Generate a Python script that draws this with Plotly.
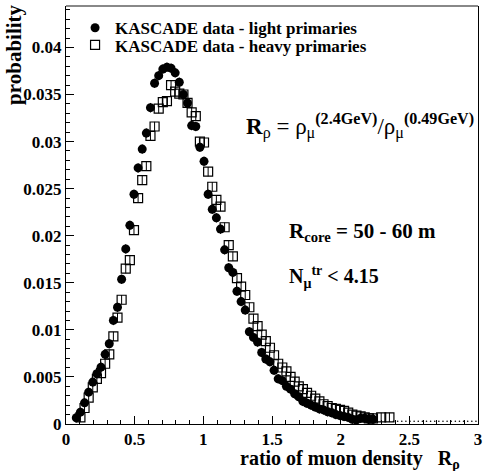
import plotly.graph_objects as go

# ---- data ----
bin_centers = [0.075, 0.105, 0.135, 0.165, 0.195, 0.225, 0.255, 0.285, 0.315, 0.345,
               0.375, 0.405, 0.435, 0.465, 0.495, 0.525, 0.555, 0.585, 0.615, 0.645,
               0.675, 0.705, 0.735, 0.765, 0.795, 0.825, 0.855, 0.885, 0.915, 0.945,
               0.975, 1.005, 1.035, 1.065, 1.095, 1.125, 1.155, 1.185, 1.215, 1.245,
               1.275, 1.305, 1.335, 1.365, 1.395, 1.425, 1.455, 1.485, 1.515, 1.545,
               1.575, 1.605, 1.635, 1.665, 1.695, 1.725, 1.755, 1.785, 1.815, 1.845,
               1.875, 1.905, 1.935, 1.965, 1.995, 2.025, 2.055, 2.085, 2.115, 2.145,
               2.175, 2.205, 2.235]

light_prob = [0.00066, 0.00126, 0.00225, 0.00338, 0.00445, 0.00534, 0.00604, 0.0074, 0.00853, 0.0110,
              0.0124, 0.01537, 0.0186, 0.0211, 0.0244, 0.0272, 0.0292, 0.0309, 0.0336, 0.0362,
              0.0370, 0.0377, 0.0379, 0.0378, 0.0373, 0.0363, 0.0350, 0.0341, 0.0317, 0.0316,
              0.0294, 0.0279, 0.0244, 0.0228, 0.0219, 0.0207, 0.0185, 0.0166, 0.0161, 0.0141,
              0.0130, 0.0121, 0.0098, 0.0092, 0.0087, 0.0076, 0.0069, 0.0066, 0.0057, 0.0048,
              0.0046, 0.0040, 0.0037, 0.0032, 0.0029, 0.0024, 0.0022, 0.0020, 0.0018, 0.0016,
              0.0015, 0.0013, 0.0012, 0.0010, 0.0009, 0.0008, 0.0007, 0.0005, 0.00045, 0.0006,
              0.0006, 0.0005, 0.0005]

heavy_x = [0.105, 0.135, 0.165, 0.195, 0.225, 0.255, 0.285, 0.315, 0.345, 0.375,
           0.405, 0.435, 0.465, 0.495, 0.525, 0.555, 0.585, 0.615, 0.645, 0.675,
           0.705, 0.735, 0.765, 0.795, 0.825, 0.855, 0.885, 0.915, 0.945, 0.975,
           1.005, 1.035, 1.065, 1.095, 1.125, 1.155, 1.185, 1.215, 1.245, 1.275,
           1.305, 1.335, 1.365, 1.395, 1.425, 1.455, 1.485, 1.515, 1.545, 1.575,
           1.605, 1.635, 1.665, 1.695, 1.725, 1.755, 1.785, 1.815, 1.845, 1.875,
           1.905, 1.935, 1.965, 1.995, 2.025, 2.055, 2.085, 2.115, 2.145, 2.175,
           2.205, 2.235, 2.295, 2.355]

heavy_prob = [0.0007, 0.0017, 0.0028, 0.0039, 0.0048, 0.0054, 0.0064, 0.0074, 0.0093, 0.0113,
              0.0132, 0.0165, 0.0174, 0.0206, 0.0240, 0.0259, 0.0274, 0.0306, 0.0316, 0.0335,
              0.0342, 0.0343, 0.0360, 0.0353, 0.0351, 0.0350, 0.0341, 0.0331, 0.0327, 0.0300,
              0.0299, 0.0268, 0.0252, 0.0238, 0.0231, 0.0209, 0.0190, 0.0178, 0.0155, 0.0146,
              0.0137, 0.0124, 0.0112, 0.0104, 0.0095, 0.0088, 0.0081, 0.0073, 0.0064, 0.0060,
              0.0056, 0.0050, 0.0045, 0.0040, 0.0037, 0.0033, 0.0030, 0.0027, 0.0024, 0.0021,
              0.0019, 0.0017, 0.0016, 0.0015, 0.0014, 0.0012, 0.0010, 0.0009, 0.0008, 0.0007,
              0.0006, 0.0006, 0.0007, 0.0007]

empty_x = [2.265, 2.325, 2.385, 2.415, 2.445, 2.475, 2.505, 2.535, 2.565, 2.595, 2.625,
           2.655, 2.685, 2.715, 2.745, 2.775, 2.805, 2.835, 2.865, 2.895, 2.925, 2.955, 2.985]
empty_prob = [0.0003] * len(empty_x)

x_ticks = [0, 0.5, 1, 1.5, 2, 2.5, 3]
x_ticktext = ["0", "0.5", "1", "1.5", "2", "2.5", "3"]
y_ticks = [0, 0.005, 0.01, 0.015, 0.02, 0.025, 0.03, 0.035, 0.04]
y_ticktext = ["0", "0.005", "0.01", "0.015", "0.02", "0.025", "0.03", "0.035", "0.04"]

FONT = "Liberation Serif"

fig = go.Figure()

fig.add_trace(go.Scatter(
    x=bin_centers, y=light_prob, mode="markers",
    name="KASCADE data - light primaries",
    marker=dict(symbol="circle", size=9, color="black"),
    error_y=dict(type="constant", value=0.0005, thickness=1, width=0, color="black"),
    legend="legend",
))
fig.add_trace(go.Scatter(
    x=heavy_x, y=heavy_prob, mode="markers",
    name="KASCADE data - heavy primaries",
    marker=dict(symbol="square-open", size=9, color="black", line=dict(width=1.2, color="black")),
    error_y=dict(type="constant", value=0.0005, thickness=1, width=0, color="black"),
    legend="legend2",
))
fig.add_trace(go.Scatter(
    x=empty_x, y=empty_prob, mode="markers", showlegend=False,
    marker=dict(symbol="circle", size=1.6, color="black"),
))

axis_common = dict(
    showgrid=False, zeroline=False, showline=True, linecolor="black", linewidth=1,
    ticks="inside", tickcolor="black", ticklen=8, ticklabeloverflow="allow",
    tickfont=dict(family=FONT, size=17, color="black", weight="bold"),
)

fig.update_xaxes(range=[0, 3], tickvals=x_ticks, ticktext=x_ticktext,
                 minor=dict(ticks="inside", ticklen=4, dtick=0.1, tickcolor="black"),
                 mirror=False, **axis_common)
fig.update_yaxes(range=[0, 0.0444], tickvals=y_ticks, ticktext=y_ticktext,
                 minor=dict(ticks="inside", ticklen=4, dtick=0.001, tickcolor="black"),
                 mirror=True, **axis_common)

legend_font = dict(family=FONT, size=17, color="black", weight="bold")
fig.update_layout(
    width=484, height=471,
    margin=dict(l=66, r=2, t=6, b=47),
    paper_bgcolor="white", plot_bgcolor="white",
    legend=dict(x=0.022, y=0.99, xanchor="left", yanchor="top", font=legend_font,
                bgcolor="rgba(0,0,0,0)", borderwidth=0, itemwidth=30,
                tracegroupgap=0),
    legend2=dict(x=0.022, y=0.949, xanchor="left", yanchor="top", font=legend_font,
                 bgcolor="rgba(0,0,0,0)", borderwidth=0, itemwidth=30,
                 tracegroupgap=0),
    shapes=[dict(type="line", xref="paper", yref="paper", x0=0, x1=1, y0=1, y1=1,
                 line=dict(color="#888888", width=2))],
)

fig.add_annotation(
    text="<b>probability</b>", xref="paper", yref="paper",
    x=-0.128, y=1.008, xanchor="center", yanchor="top", textangle=-90, showarrow=False,
    font=dict(family=FONT, size=21, color="black"),
)
fig.add_annotation(
    text="<b>ratio of muon density   R<sub>ρ</sub></b>", xref="paper", yref="paper",
    x=0.418, y=-0.084, xanchor="left", yanchor="middle", showarrow=False,
    font=dict(family=FONT, size=20, color="black"),
)
fig.add_annotation(
    text="<b>R</b><sub>ρ</sub> = ρ<sub>μ</sub><sup><b>(2.4GeV)</b></sup>/ρ<sub>μ</sub><sup><b>(0.49GeV)</b></sup>",
    xref="paper", yref="paper", x=(246 - 66) / 416, y=(423.5 - 126) / 417.5,
    xanchor="left", yanchor="middle", showarrow=False,
    font=dict(family=FONT, size=23, color="black"),
)
fig.add_annotation(
    text="<b>R<sub>core</sub> = 50 - 60 m</b>",
    xref="paper", yref="paper", x=(289 - 66) / 416, y=(423.5 - 232) / 417.5,
    xanchor="left", yanchor="middle", showarrow=False,
    font=dict(family=FONT, size=21, color="black"),
)
fig.add_annotation(
    text="<b>N<sub>μ</sub><sup>tr</sup> < 4.15</b>",
    xref="paper", yref="paper", x=(289 - 66) / 416, y=(423.5 - 277) / 417.5,
    xanchor="left", yanchor="middle", showarrow=False,
    font=dict(family=FONT, size=20, color="black"),
)

fig.write_html("out.html", config={"displayModeBar": False},
               post_script="document.body.style.margin='0';")
